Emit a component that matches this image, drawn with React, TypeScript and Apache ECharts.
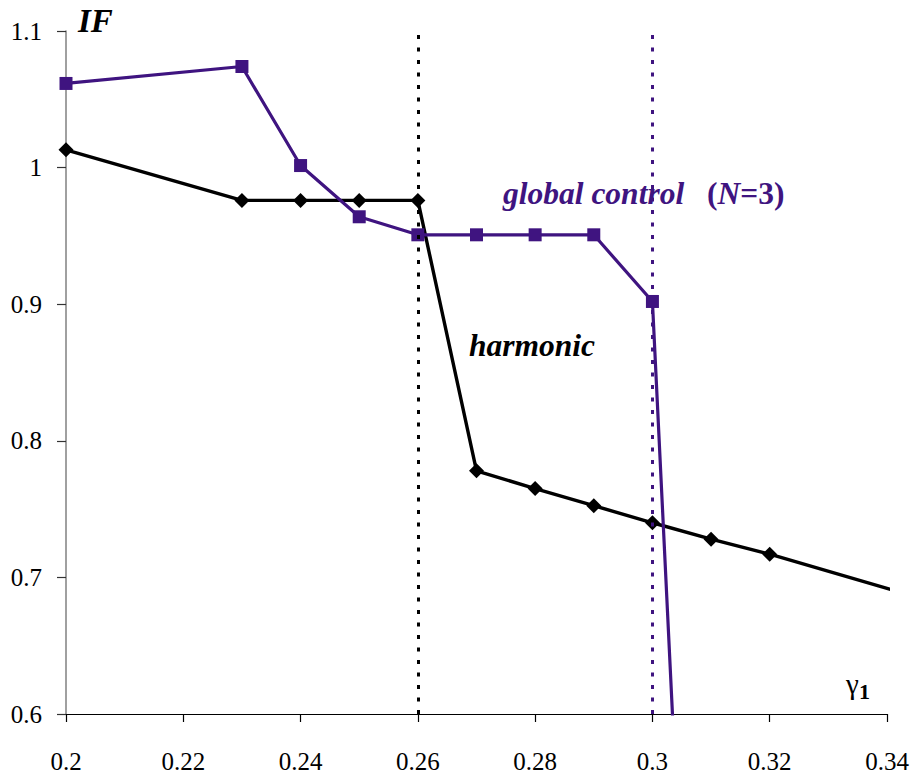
import React, { useEffect, useRef } from "react";
import * as echarts from "echarts";

const gammaHarmonic = [0.2, 0.23, 0.24, 0.25, 0.26, 0.27, 0.28, 0.29, 0.3, 0.31, 0.32, 0.342];
const ifHarmonic = [1.013, 0.976, 0.976, 0.976, 0.976, 0.778, 0.765, 0.7525, 0.74, 0.728, 0.717, 0.6895];
const gammaGlobal = [0.2, 0.23, 0.24, 0.25, 0.26, 0.27, 0.28, 0.29, 0.3, 0.31];
const ifGlobal = [1.0616, 1.074, 1.0015, 0.964, 0.9508, 0.9508, 0.9508, 0.9508, 0.902, 0.018];
const refLines = [0.26, 0.3];
const xTicks = { min: 0.2, max: 0.34, step: 0.02 };
const yTicks = { min: 0.6, max: 1.1, step: 0.1 };

const FONT = "Liberation Serif";
const PURPLE = "#3f1480";

export default function App() {
  const ref = useRef<HTMLDivElement>(null);
  useEffect(() => {
    if (!ref.current) return;
    const chart = echarts.init(ref.current, null, { renderer: "svg" });
    const harmonicData = gammaHarmonic.map((g, i) =>
      i === gammaHarmonic.length - 1
        ? { value: [g, ifHarmonic[i]], symbol: "none" }
        : { value: [g, ifHarmonic[i]] }
    );
    const globalData = gammaGlobal.map((g, i) => [g, ifGlobal[i]]);
    chart.setOption({
      animation: false,
      backgroundColor: "#ffffff",
      textStyle: { fontFamily: FONT },
      grid: { left: 66, right: 28, top: 31, bottom: 62, containLabel: false },
      xAxis: {
        type: "value",
        min: xTicks.min,
        max: xTicks.max,
        interval: xTicks.step,
        axisLine: { show: true, onZero: false, lineStyle: { color: "#000", width: 1.2 } },
        axisTick: { show: true, inside: false, length: 8, lineStyle: { color: "#000", width: 1.2 } },
        axisLabel: {
          margin: 35,
          fontFamily: FONT,
          fontSize: 25,
          color: "#000",
          formatter: (v: number) => String(+v.toFixed(2)),
        },
        splitLine: { show: false },
      },
      yAxis: {
        type: "value",
        min: yTicks.min,
        max: yTicks.max,
        interval: yTicks.step,
        axisLine: { show: true, onZero: false, lineStyle: { color: "#808080", width: 1.5 } },
        axisTick: { show: true, inside: false, length: 9, lineStyle: { color: "#333", width: 1.2 } },
        axisLabel: {
          margin: 24,
          fontFamily: FONT,
          fontSize: 25,
          color: "#000",
          formatter: (v: number) => String(+v.toFixed(1)),
        },
        splitLine: { show: false },
      },
      series: [
        {
          name: "harmonic",
          type: "line",
          clip: false,
          data: harmonicData,
          symbol: "diamond",
          symbolSize: 15,
          lineStyle: { color: "#000", width: 3.4 },
          itemStyle: { color: "#000" },
          z: 3,
          markLine: {
            silent: true,
            symbol: "none",
            label: { show: false },
            lineStyle: { color: "#000", width: 3, type: [4, 8.5] },
            data: [{ xAxis: refLines[0] }],
          },
        },
        {
          name: "global control",
          type: "line",
          clip: true,
          data: globalData,
          symbol: "rect",
          symbolSize: 13,
          lineStyle: { color: PURPLE, width: 3.2 },
          itemStyle: { color: PURPLE },
          z: 4,
          markLine: {
            silent: true,
            symbol: "none",
            label: { show: false },
            lineStyle: { color: PURPLE, width: 3, type: [4, 8.5] },
            data: [{ xAxis: refLines[1] }],
          },
        },
      ],
      graphic: [
        {
          type: "text",
          x: 78,
          y: 21,
          style: { text: "IF", verticalAlign: "middle", fontFamily: FONT, fontStyle: "italic", fontWeight: "bold", fontSize: 33, fill: "#000" },
        },
        {
          type: "text",
          x: 503,
          y: 193,
          style: {
            text: "global control",
            verticalAlign: "middle",
            fontFamily: FONT,
            fontStyle: "italic",
            fontWeight: "bold",
            fontSize: 31.5,
            fill: PURPLE,
          },
        },
        {
          type: "text",
          x: 707,
          y: 193,
          style: {
            text: "{b|(}{a|N}{b|=3)}",
            verticalAlign: "middle",
            fontFamily: FONT,
            fill: PURPLE,
            rich: {
              a: { fontFamily: FONT, fontStyle: "italic", fontWeight: "bold", fontSize: 31.5, fill: PURPLE },
              b: { fontFamily: FONT, fontWeight: "bold", fontSize: 31.5, fill: PURPLE },
            },
          },
        },
        {
          type: "text",
          x: 469,
          y: 345,
          style: {
            text: "harmonic",
            verticalAlign: "middle",
            fontFamily: FONT,
            fontStyle: "italic",
            fontWeight: "bold",
            fontSize: 31.5,
            fill: "#000",
          },
        },
        {
          type: "text",
          x: 846,
          y: 684,
          style: { text: "γ", verticalAlign: "middle", fontFamily: FONT, fontSize: 29, fill: "#000" },
        },
        {
          type: "text",
          x: 859,
          y: 691,
          style: { text: "1", verticalAlign: "middle", fontFamily: FONT, fontWeight: "bold", fontSize: 22, fill: "#000" },
        },
      ],
    });
    return () => chart.dispose();
  }, []);
  return (
    <div
      ref={ref}
      style={{ position: "fixed", left: 0, top: 0, width: 915, height: 776, background: "#fff" }}
    />
  );
}
